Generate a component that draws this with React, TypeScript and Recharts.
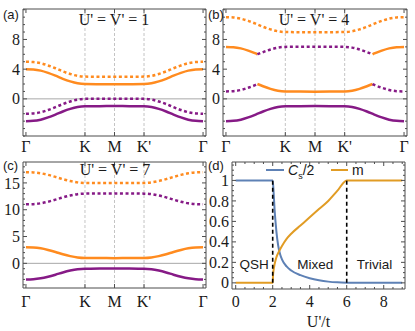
import React from "react";
import { LineChart, Line, XAxis, YAxis, ReferenceLine, ReferenceDot } from "recharts";

const ORANGE = "#ff8b1f";
const PURPLE = "#861a86";
const FRAME = "#4d4d4d";
const GRID = "#b5b5b5";
const BLUE_D = "#5e81b5";
const ORANGE_D = "#e19c24";
const SERIF = "'Liberation Serif', 'Times New Roman', serif";
const SANS = "'Liberation Sans', Arial, sans-serif";

// path through the zone: Γ – K – M – K' – Γ
const kPath = [0, 0.25, 0.5, 0.75, 1, 1.25, 1.5, 1.75, 2, 2.5, 3, 3.5, 4, 4.25, 4.5, 4.75, 5, 5.25, 5.5, 5.75, 6];
const kTicks = [0, 2, 3, 4, 6];
const kNames = ["Γ", "K", "M", "K'", "Γ"];

// (a) U' = V' = 1
const aOrangeDot = [5, 4.96, 4.8, 4.5, 4.12, 3.7, 3.35, 3.1, 3, 2.98, 2.97, 2.98, 3, 3.1, 3.35, 3.7, 4.12, 4.5, 4.8, 4.96, 5];
const aOrangeSolid = [4, 3.96, 3.8, 3.5, 3.12, 2.7, 2.35, 2.1, 2, 1.98, 1.97, 1.98, 2, 2.1, 2.35, 2.7, 3.12, 3.5, 3.8, 3.96, 4];
const aPurpleDot = [-2, -1.96, -1.8, -1.5, -1.12, -0.7, -0.35, -0.1, 0, 0.02, 0.03, 0.02, 0, -0.1, -0.35, -0.7, -1.12, -1.5, -1.8, -1.96, -2];
const aPurpleSolid = [-3, -2.96, -2.8, -2.5, -2.12, -1.7, -1.35, -1.1, -1, -0.98, -0.97, -0.98, -1, -1.1, -1.35, -1.7, -2.12, -2.5, -2.8, -2.96, -3];

// (b) U' = V' = 4, middle bands swap character at the crossings
const bLeftX = [0, 0.25, 0.5, 0.75, 1, 1.06];
const bMidX = [1.06, 1.25, 1.5, 1.75, 2, 2.5, 3, 3.5, 4, 4.25, 4.5, 4.75, 4.94];
const bRightX = [4.94, 5, 5.25, 5.5, 5.75, 6];
const bOrangeDot = [11, 10.96, 10.8, 10.5, 10.12, 9.7, 9.35, 9.1, 9, 8.98, 8.97, 8.98, 9, 9.1, 9.35, 9.7, 10.12, 10.5, 10.8, 10.96, 11];
const bUpperOrangeL = [7, 6.96, 6.8, 6.5, 6.12, 6];
const bUpperPurpleMid = [6, 6.3, 6.65, 6.9, 7, 7.02, 7.03, 7.02, 7, 6.9, 6.65, 6.3, 6];
const bUpperOrangeR = [6, 6.12, 6.5, 6.8, 6.96, 7];
const bLowerPurpleL = [1, 1.04, 1.2, 1.5, 1.88, 2];
const bLowerOrangeMid = [2, 1.7, 1.35, 1.1, 1, 0.98, 0.97, 0.98, 1, 1.1, 1.35, 1.7, 2];
const bLowerPurpleR = [2, 1.88, 1.5, 1.2, 1.04, 1];
const bPurpleSolid = [-3, -2.96, -2.8, -2.5, -2.12, -1.7, -1.35, -1.1, -1, -0.98, -0.97, -0.98, -1, -1.1, -1.35, -1.7, -2.12, -2.5, -2.8, -2.96, -3];

// (c) U' = V' = 7
const cOrangeDot = [17, 16.96, 16.8, 16.5, 16.12, 15.7, 15.35, 15.1, 15, 14.98, 14.97, 14.98, 15, 15.1, 15.35, 15.7, 16.12, 16.5, 16.8, 16.96, 17];
const cPurpleDot = [11, 11.04, 11.2, 11.5, 11.88, 12.3, 12.65, 12.9, 13, 13.02, 13.03, 13.02, 13, 12.9, 12.65, 12.3, 11.88, 11.5, 11.2, 11.04, 11];
const cOrangeSolid = [3, 2.96, 2.8, 2.5, 2.12, 1.7, 1.35, 1.1, 1, 0.98, 0.97, 0.98, 1, 1.1, 1.35, 1.7, 2.12, 2.5, 2.8, 2.96, 3];
const cPurpleSolid = [-3, -2.96, -2.8, -2.5, -2.12, -1.7, -1.35, -1.1, -1, -0.98, -0.97, -0.98, -1, -1.1, -1.35, -1.7, -2.12, -2.5, -2.8, -2.96, -3];

// (d) spin Chern number and magnetisation vs U'/t
const csU = [0, 1, 2, 2.05, 2.1, 2.15, 2.2, 2.3, 2.4, 2.5, 2.75, 3, 3.5, 4, 4.5, 5, 5.5, 6, 7, 8, 9];
const csHalf = [1, 1, 1, 0.88, 0.72, 0.6, 0.5, 0.36, 0.28, 0.23, 0.16, 0.12, 0.075, 0.045, 0.025, 0.012, 0.005, 0.002, 0, 0, 0];
const mU = [0, 1, 2, 2.02, 2.05, 2.1, 2.2, 2.35, 2.5, 2.75, 3, 3.5, 4, 4.5, 5, 5.5, 6, 7, 8, 9];
const mVal = [0, 0, 0, 0.08, 0.13, 0.18, 0.25, 0.31, 0.36, 0.43, 0.48, 0.56, 0.64, 0.72, 0.8, 0.9, 1, 1, 1, 1];
const phaseLines = [2, 6];

const abTicks = [-5, -4, -3, -2, -1, 0, 1, 2, 3, 4, 5, 6, 7, 8, 9, 10, 11, 12];
const abMajor = [0, 4, 8];
const cTicks = [-4, -3, -2, -1, 0, 1, 2, 3, 4, 5, 6, 7, 8, 9, 10, 11, 12, 13, 14, 15, 16, 17, 18];
const cMajor = [0, 5, 10, 15];
const dYTicks = [0, 0.05, 0.1, 0.15, 0.2, 0.25, 0.3, 0.35, 0.4, 0.45, 0.5, 0.55, 0.6, 0.65, 0.7, 0.75, 0.8, 0.85, 0.9, 0.95, 1, 1.05, 1.1, 1.15];
const dYMajor = [0, 0.2, 0.4, 0.6, 0.8, 1];
const dXTicks = [0, 0.5, 1, 1.5, 2, 2.5, 3, 3.5, 4, 4.5, 5, 5.5, 6, 6.5, 7, 7.5, 8, 8.5, 9];
const dXMajor = [0, 2, 4, 6, 8];

const pts = (xs: number[], ys: number[]) => xs.map((x, i) => ({ x, y: ys[i] }));
const isMajor = (v: number, majors: number[]) => majors.some((m) => Math.abs(m - v) < 1e-6);

const labelStyle = { fontSize: 16, fontFamily: SERIF, fill: "#1a1a1a" };

const leftTick = (majors: number[], fmt: (v: number) => string) => (p: any) => {
  const v = p.payload.value;
  const maj = isMajor(v, majors);
  return (
    <g>
      <line x1={p.x} x2={p.x + (maj ? 4 : 2)} y1={p.y} y2={p.y} stroke={FRAME} />
      {maj && (
        <text x={p.x - 3} y={p.y} dy="0.35em" textAnchor="end" {...labelStyle}>
          {fmt(v)}
        </text>
      )}
    </g>
  );
};

const rightTick = (majors: number[]) => (p: any) => {
  const maj = isMajor(p.payload.value, majors);
  return <line x1={p.x} x2={p.x - (maj ? 4 : 2)} y1={p.y} y2={p.y} stroke={FRAME} />;
};

const bottomTick = (majors: number[], fmt: (v: number) => string, gap: number) => (p: any) => {
  const v = p.payload.value;
  const maj = isMajor(v, majors);
  return (
    <g>
      <line x1={p.x} x2={p.x} y1={p.y} y2={p.y - (maj ? 4 : 2)} stroke={FRAME} />
      {maj && (
        <text x={p.x} y={p.y + gap} dy="0.71em" textAnchor="middle" {...labelStyle}>
          {fmt(v)}
        </text>
      )}
    </g>
  );
};

const topTick = (majors: number[]) => (p: any) => {
  const maj = isMajor(p.payload.value, majors);
  return <line x1={p.x} x2={p.x} y1={p.y} y2={p.y + (maj ? 4 : 2)} stroke={FRAME} />;
};

const kName = (v: number) => kNames[kTicks.indexOf(v)] ?? "";
const plain = (v: number) => String(v);
const dFmt = (v: number) => (v === 0 || v === 1 ? String(v) : v.toFixed(1));

const axisCommon = {
  allowDataOverflow: true,
  interval: 0 as const,
  tickLine: false,
  tickSize: 0,
  tickMargin: 0,
  axisLine: { stroke: FRAME, strokeWidth: 1 },
};

type Series = { xs: number[]; ys: number[]; color: string; dotted?: boolean };

type BandProps = {
  box: [number, number, number, number];
  left: number;
  right: number;
  top: number;
  bottom: number;
  gap: number;
  yDomain: [number, number];
  yTicks: number[];
  yMajor: number[];
  series: Series[];
};

function BandPanel({ box, left, right, top, bottom, gap, yDomain, yTicks, yMajor, series }: BandProps) {
  return (
    <div style={{ position: "absolute", left: box[0], top: box[1] }}>
      <LineChart width={box[2]} height={box[3]} margin={{ top, right: 0, bottom: 0, left: 0 }}>
        <XAxis xAxisId="b" type="number" dataKey="x" domain={[-0.1, 6.1]} ticks={kTicks} height={bottom}
          {...axisCommon} tick={bottomTick(kTicks, kName, gap)} />
        <XAxis xAxisId="t" orientation="top" type="number" dataKey="x" domain={[-0.1, 6.1]} ticks={kTicks} height={1}
          {...axisCommon} tick={topTick(kTicks)} />
        <YAxis yAxisId="l" type="number" domain={yDomain} ticks={yTicks} width={left}
          {...axisCommon} tick={leftTick(yMajor, plain)} />
        <YAxis yAxisId="r" orientation="right" type="number" domain={yDomain} ticks={yTicks} width={right}
          {...axisCommon} tick={rightTick(yMajor)} />
        {[2, 3, 4].map((k) => (
          <ReferenceLine key={k} xAxisId="b" yAxisId="l" x={k} stroke={GRID} strokeDasharray="3 2" strokeWidth={0.8} />
        ))}
        <ReferenceLine xAxisId="b" yAxisId="l" y={0} stroke="#a8a8a8" strokeWidth={1} />
        {series.map((s, i) => (
          <Line key={i} xAxisId="b" yAxisId="l" data={pts(s.xs, s.ys)} dataKey="y" type="monotone"
            stroke={s.color} strokeWidth={2.5} strokeDasharray={s.dotted ? "3 2.6" : undefined}
            dot={false} activeDot={false} isAnimationActive={false} />
        ))}
      </LineChart>
    </div>
  );
}

const Tag = ({ x, y, children, size = 13, serif = false }: any) => (
  <div style={{ position: "absolute", left: x, top: y, fontSize: size, lineHeight: `${size + 2}px`,
    fontFamily: serif ? SERIF : SANS, color: "#1a1a1a", whiteSpace: "nowrap" }}>{children}</div>
);

const Title = ({ cx, cy, text }: { cx: number; cy: number; text: string }) => (
  <div style={{ position: "absolute", left: cx - 60, top: cy - 9, width: 120, textAlign: "center", fontSize: 16,
    lineHeight: "18px", fontFamily: SERIF, color: "#1a1a1a", whiteSpace: "nowrap" }}>{text}</div>
);

function PanelD() {
  return (
    <div style={{ position: "absolute", left: 205, top: 153 }}>
      <LineChart width={210} height={178} margin={{ top: 8, right: 0, bottom: 0, left: 0 }}>
        <XAxis xAxisId="b" type="number" dataKey="x" domain={[-0.2, 9.15]} ticks={dXTicks} height={42}
          {...axisCommon} tick={bottomTick(dXMajor, plain, 7)}
          label={{ value: "U'/t", position: "insideBottom", offset: 4, style: { ...labelStyle } }} />
        <XAxis xAxisId="t" orientation="top" type="number" dataKey="x" domain={[-0.2, 9.15]} ticks={dXTicks} height={1}
          {...axisCommon} tick={topTick(dXMajor)} />
        <YAxis yAxisId="l" type="number" domain={[-0.06, 1.18]} ticks={dYTicks} width={27}
          {...axisCommon} tick={leftTick(dYMajor, dFmt)} />
        <YAxis yAxisId="r" orientation="right" type="number" domain={[-0.06, 1.18]} ticks={dYTicks} width={10}
          {...axisCommon} tick={rightTick(dYMajor)} />
        <Line xAxisId="b" yAxisId="l" data={pts(csU, csHalf)} dataKey="y" type="monotone" stroke={BLUE_D}
          strokeWidth={2} dot={false} activeDot={false} isAnimationActive={false} />
        <Line xAxisId="b" yAxisId="l" data={pts(mU, mVal)} dataKey="y" type="monotone" stroke={ORANGE_D}
          strokeWidth={2} dot={false} activeDot={false} isAnimationActive={false} />
        {phaseLines.map((u) => (
          <ReferenceLine key={u} xAxisId="b" yAxisId="l" segment={[{ x: u, y: 0 }, { x: u, y: 1 }]}
            stroke="#000" strokeWidth={1.6} strokeDasharray="4 3" />
        ))}
        {[["QSH", 1.0], ["Mixed", 4.3], ["Trivial", 7.5]].map(([t, u]) => (
          <ReferenceDot key={t as string} xAxisId="b" yAxisId="l" x={u as number} y={0.18} r={0} fill="none" stroke="none"
            label={{ value: t as string, position: "center", style: { fontSize: 13.5, fontFamily: SANS, fill: "#1a1a1a" } }} />
        ))}
      </LineChart>
    </div>
  );
}

export default function App() {
  return (
    <div style={{ position: "absolute", left: 0, top: 0, width: 415, height: 331, background: "#fff", overflow: "hidden" }}>
      <BandPanel box={[0, 0, 210, 160]} left={23} right={4} top={8} bottom={24} gap={5} yDomain={[-5, 12.1]}
        yTicks={abTicks} yMajor={abMajor}
        series={[
          { xs: kPath, ys: aOrangeDot, color: ORANGE, dotted: true },
          { xs: kPath, ys: aOrangeSolid, color: ORANGE },
          { xs: kPath, ys: aPurpleDot, color: PURPLE, dotted: true },
          { xs: kPath, ys: aPurpleSolid, color: PURPLE },
        ]} />
      <BandPanel box={[205, 0, 210, 160]} left={18} right={8} top={8} bottom={24} gap={5} yDomain={[-5, 12.1]}
        yTicks={abTicks} yMajor={abMajor}
        series={[
          { xs: kPath, ys: bOrangeDot, color: ORANGE, dotted: true },
          { xs: bLeftX, ys: bUpperOrangeL, color: ORANGE },
          { xs: bMidX, ys: bUpperPurpleMid, color: PURPLE, dotted: true },
          { xs: bRightX, ys: bUpperOrangeR, color: ORANGE },
          { xs: bLeftX, ys: bLowerPurpleL, color: PURPLE, dotted: true },
          { xs: bMidX, ys: bLowerOrangeMid, color: ORANGE },
          { xs: bRightX, ys: bLowerPurpleR, color: PURPLE, dotted: true },
          { xs: kPath, ys: bPurpleSolid, color: PURPLE },
        ]} />
      <BandPanel box={[0, 153, 210, 178]} left={23} right={4} top={8} bottom={43} gap={8} yDomain={[-4.6, 18.9]}
        yTicks={cTicks} yMajor={cMajor}
        series={[
          { xs: kPath, ys: cOrangeDot, color: ORANGE, dotted: true },
          { xs: kPath, ys: cPurpleDot, color: PURPLE, dotted: true },
          { xs: kPath, ys: cOrangeSolid, color: ORANGE },
          { xs: kPath, ys: cPurpleSolid, color: PURPLE },
        ]} />
      <PanelD />

      <Title cx={114} cy={20} text="U' = V' = 1" />
      <Title cx={314} cy={20} text="U' = V' = 4" />
      <Title cx={115} cy={170} text="U' = V' = 7" />

      <Tag x={3} y={7}>(a)</Tag>
      <Tag x={208} y={7}>(b)</Tag>
      <Tag x={3} y={158}>(c)</Tag>
      <Tag x={208} y={158}>(d)</Tag>

      {/* legend of panel (d) */}
      <div style={{ position: "absolute", left: 266, top: 169, width: 18, height: 2, background: BLUE_D }} />
      <Tag x={288} y={162} size={14}><i>C</i><sub style={{ fontSize: 9 }}>s</sub>/2</Tag>
      <div style={{ position: "absolute", left: 331, top: 169, width: 17, height: 2, background: ORANGE_D }} />
      <Tag x={352} y={162} size={14}>m</Tag>
    </div>
  );
}
